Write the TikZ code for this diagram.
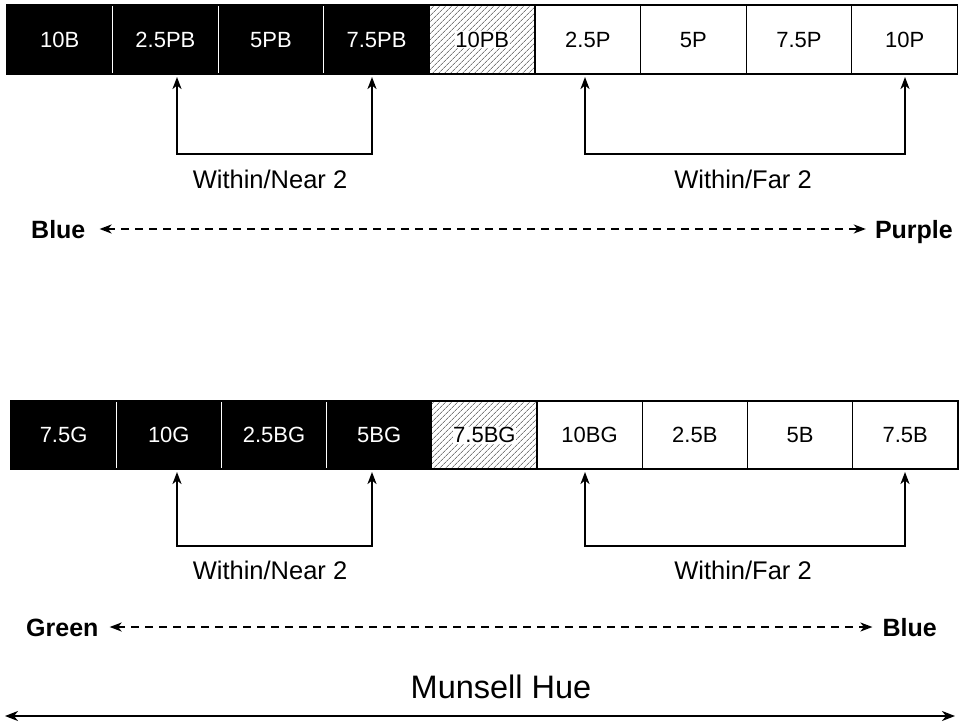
\documentclass[tikz,border=0pt]{standalone}
\usepackage{fontspec}
\setmainfont{Liberation Sans}
\usetikzlibrary{arrows.meta,patterns.meta}
\begin{document}
\begin{tikzpicture}[x=1pt,y=-1pt,
  cellbase/.style={minimum width=105.6pt,minimum height=69pt,inner sep=0pt,outer sep=0pt,anchor=north west,text height=15.8pt,text depth=0pt,font=\fontsize{22}{22}\selectfont},
  darkcell/.style={cellbase,fill=black,draw=white,line width=1pt,text=white},
  lightcell/.style={cellbase,fill=white,draw=black,line width=1.2pt,text=black},
  hatchcell/.style={cellbase,draw=black,line width=1.2pt,preaction={fill=white},pattern={Lines[angle=45,distance=4pt,line width=0.6pt]},pattern color=black!80},
  hatchtext/.style={fill=white,inner sep=0.6pt,text height=15.8pt,text depth=0pt,font=\fontsize{22}{22}\selectfont},
  barframe/.style={draw=black,line width=1.4pt},
  bracket/.style={draw=black,line width=2pt,{Stealth[length=12pt,width=9pt,inset=3.5pt]}-{Stealth[length=12pt,width=9pt,inset=3.5pt]}},
  gaplabel/.style={inner sep=0pt,text height=18pt,text depth=0pt,font=\fontsize{25.5}{25.5}\selectfont},
  endlabel/.style={inner sep=0pt,text height=18pt,text depth=0pt,font=\fontsize{25}{25}\selectfont\bfseries},
  dashline/.style={draw=black,line width=1.8pt,dash pattern=on 8pt off 6pt,{Stealth[length=12pt,width=9pt,inset=3.5pt]}-{Stealth[length=12pt,width=9pt,inset=3.5pt]}},
  hueline/.style={draw=black,line width=2pt,{Stealth[length=13pt,width=10pt,inset=4pt]}-{Stealth[length=13pt,width=10pt,inset=4pt]}},
  huelabel/.style={inner sep=0pt,text height=23pt,text depth=0pt,font=\fontsize{32.5}{32.5}\selectfont}
]
\useasboundingbox (0,0) rectangle (959,726);

% ---------- top bar ----------
\foreach \lab [count=\i] in {10B,2.5PB,5PB,7.5PB}
  \node[darkcell] (t\i) at ({7+(\i-1)*105.6},5) {\lab};
\node[hatchcell] (t5) at ({7+4*105.6},5) {};
\node[hatchtext] (t5l) at (t5.center) {10PB};
\foreach \lab [count=\i from 6] in {2.5P,5P,7.5P,10P}
  \node[lightcell] (t\i) at ({7+(\i-1)*105.6},5) {\lab};
\draw[barframe] (t1.north west) rectangle (t9.south east);

% top brackets
\coordinate (tn1) at (177,77);
\coordinate (tn2) at (372,77);
\coordinate (tnb) at (274,154);
\coordinate (tf1) at (585,77);
\coordinate (tf2) at (905,77);
\coordinate (tfb) at (745,154);
\draw[bracket] (tn1) |- (tnb) -| (tn2);
\draw[bracket] (tf1) |- (tfb) -| (tf2);
\node[gaplabel] (tnl) at (270,179) {Within/Near 2};
\node[gaplabel] (tfl) at (743,179) {Within/Far 2};

% blue - purple
\node[endlabel,anchor=west] (blue1) at (31,229) {Blue};
\node[endlabel,anchor=east] (purple) at (953,229) {Purple};
\draw[dashline,shorten <=14pt,shorten >=9pt] (blue1.east) -- (purple.west);

% ---------- bottom bar ----------
\foreach \lab [count=\i] in {7.5G,10G,2.5BG,5BG}
  \node[darkcell,minimum height=68pt,minimum width=105.2pt] (b\i) at ({11+(\i-1)*105.2},401) {\lab};
\node[hatchcell,minimum height=68pt,minimum width=105.2pt] (b5) at ({11+4*105.2},401) {};
\node[hatchtext] (b5l) at (b5.center) {7.5BG};
\foreach \lab [count=\i from 6] in {10BG,2.5B,5B,7.5B}
  \node[lightcell,minimum height=68pt,minimum width=105.2pt] (b\i) at ({11+(\i-1)*105.2},401) {\lab};
\draw[barframe] (b1.north west) rectangle (b9.south east);

% bottom brackets
\coordinate (bn1) at (177,472);
\coordinate (bn2) at (372,472);
\coordinate (bnb) at (274,546);
\coordinate (bf1) at (585,472);
\coordinate (bf2) at (905,472);
\coordinate (bfb) at (745,546);
\draw[bracket] (bn1) |- (bnb) -| (bn2);
\draw[bracket] (bf1) |- (bfb) -| (bf2);
\node[gaplabel] (bnl) at (270,570) {Within/Near 2};
\node[gaplabel] (bfl) at (743,570) {Within/Far 2};

% green - blue
\node[endlabel,anchor=west] (green) at (26,627) {Green};
\node[endlabel,anchor=east] (blue2) at (937,627) {Blue};
\draw[dashline,shorten <=11pt,shorten >=10pt] (green.east) -- (blue2.west);

% munsell hue
\node[huelabel] (hue) at (501,687) {Munsell Hue};
\coordinate (hl) at (5,716);
\coordinate (hr) at (955,716);
\draw[hueline] (hl) -- (hr);
\end{tikzpicture}
\end{document}
